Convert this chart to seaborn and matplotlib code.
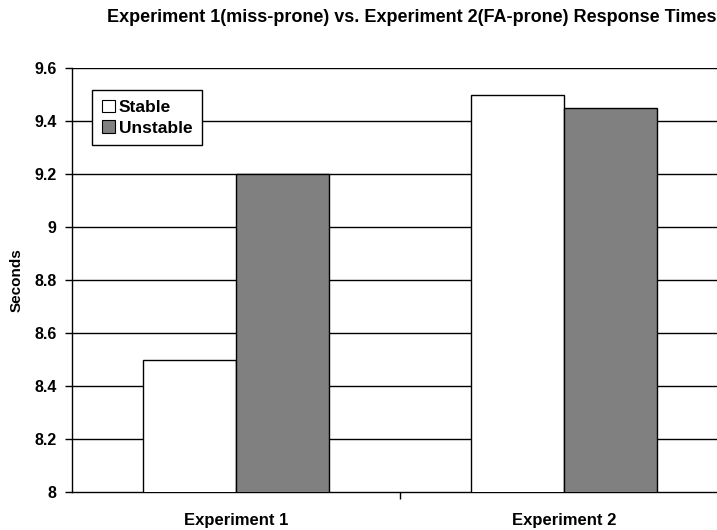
import matplotlib
matplotlib.use("Agg")
import matplotlib.pyplot as plt
import seaborn as sns
import pandas as pd
from matplotlib.patches import Patch

experiments = ["Experiment 1", "Experiment 2"]
conditions = ["Stable", "Unstable"]
stable_vals = [8.5, 9.5]
unstable_vals = [9.2, 9.45]
yticks = [8, 8.2, 8.4, 8.6, 8.8, 9, 9.2, 9.4, 9.6]
ytick_labels = ["8", "8.2", "8.4", "8.6", "8.8", "9", "9.2", "9.4", "9.6"]

df = pd.DataFrame({
    "Experiment": experiments * 2,
    "Condition": ["Stable"] * 2 + ["Unstable"] * 2,
    "Seconds": stable_vals + unstable_vals,
})

sns.set_theme(style="white")
plt.rcParams["font.family"] = ["Liberation Sans", "DejaVu Sans"]
plt.rcParams["text.color"] = "black"
plt.rcParams["axes.labelcolor"] = "black"
plt.rcParams["xtick.color"] = "black"
plt.rcParams["ytick.color"] = "black"

fig = plt.figure(figsize=(7.17, 5.30), dpi=100)
ax = fig.add_axes([72 / 717, (530 - 492) / 530, (728 - 72) / 717, (492 - 68) / 530])

sns.barplot(data=df, x="Experiment", y="Seconds", hue="Condition",
            order=experiments, hue_order=conditions,
            palette={"Stable": "#ffffff", "Unstable": "#808080"},
            edgecolor="black", linewidth=1.0, width=0.567, gap=0,
            legend=False, ax=ax, zorder=3)

ax.set_ylim(8, 9.6)
ax.set_xlim(-0.5, 1.5)
ax.set_yticks(yticks)
ax.set_yticklabels(ytick_labels, fontsize=11.5, fontweight="bold")
for y in yticks[1:]:
    ax.axhline(y, color="black", lw=1.0, zorder=1)

ax.set_xticks([0, 1])
ax.set_xticklabels(experiments, fontsize=12, fontweight="bold")
ax.set_xticks([0.5], minor=True)
ax.tick_params(axis="x", which="major", length=0, pad=15)
ax.tick_params(axis="x", which="minor", length=5, width=1, color="black", direction="out", bottom=True)
ax.tick_params(axis="y", length=5, width=1, color="black", direction="out", left=True, pad=6)

for side in ["top", "right"]:
    ax.spines[side].set_visible(False)
for side in ["left", "bottom"]:
    ax.spines[side].set_color("black")
    ax.spines[side].set_linewidth(1.0)

ax.set_xlabel("")
ax.set_ylabel("Seconds", fontsize=11, fontweight="bold", labelpad=8)

fig.text(412 / 717, 1 - 18 / 530,
         "Experiment 1(miss-prone) vs. Experiment 2(FA-prone) Response Times",
         ha="center", va="center", fontsize=13, fontweight="bold")

handles = [Patch(facecolor="#ffffff", edgecolor="black", linewidth=0.8),
           Patch(facecolor="#808080", edgecolor="black", linewidth=0.8)]
leg = ax.legend(handles, conditions, loc="upper left",
                bbox_to_anchor=((92 - 72) / 656, 1 - (90 - 68) / 424),
                frameon=True, fancybox=False, framealpha=1, edgecolor="black",
                prop={"weight": "bold", "size": 12.5}, handlelength=0.75, handleheight=0.75,
                handletextpad=0.25, borderpad=0.55, labelspacing=0.3, borderaxespad=0)
leg.get_frame().set_linewidth(1.0)
leg.set_zorder(5)

fig.savefig("out.png", dpi=100)
